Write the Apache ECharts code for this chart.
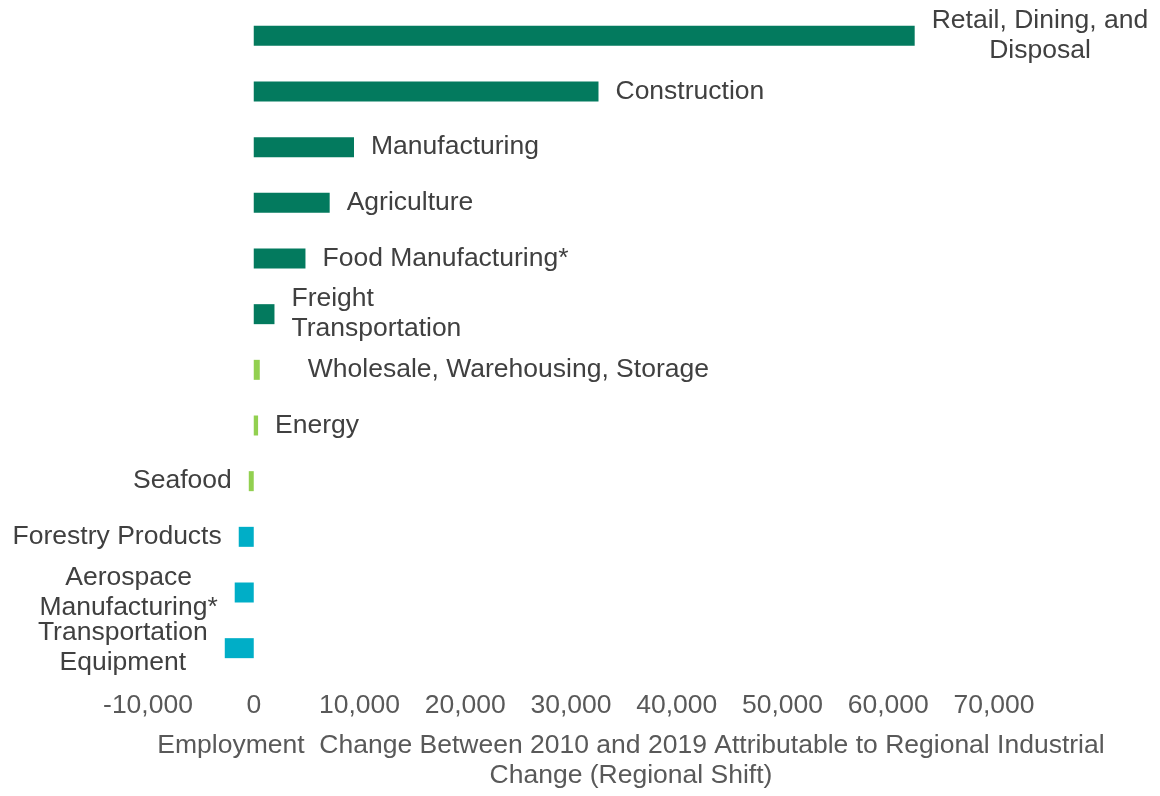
<!DOCTYPE html>
<html>
<head>
<meta charset="utf-8">
<script src="https://cdn.jsdelivr.net/npm/echarts@6/dist/echarts.min.js"></script>
<style>
html,body{margin:0;padding:0;background:#fff;}
#chart{width:1160px;height:796px;}
</style>
</head>
<body>
<div id="chart"></div>
<script>
// Categories (top to bottom)
const categories = [
  'Retail, Dining, and Disposal',
  'Construction',
  'Manufacturing',
  'Agriculture',
  'Food Manufacturing*',
  'Freight Transportation',
  'Wholesale, Warehousing, Storage',
  'Energy',
  'Seafood',
  'Forestry Products',
  'Aerospace Manufacturing*',
  'Transportation Equipment'
];
// Label text as displayed (line breaks as in the chart)
const labelLines = [
  ['Retail, Dining, and', 'Disposal'],
  ['Construction'],
  ['Manufacturing'],
  ['Agriculture'],
  ['Food Manufacturing*'],
  ['Freight', 'Transportation'],
  ['Wholesale, Warehousing, Storage'],
  ['Energy'],
  ['Seafood'],
  ['Forestry Products'],
  ['Aerospace', 'Manufacturing*'],
  ['Transportation', 'Equipment']
];
// Regional shift values (employment change 2010-2019)
const values = [62500, 32600, 9480, 7180, 4890, 1960, 570, 410, -470, -1420, -1800, -2740];
// Colour group per category
const groups = ['high', 'high', 'high', 'high', 'high', 'high', 'mid', 'mid', 'mid', 'low', 'low', 'low'];
// Axis ticks
const xMin = -10000, xMax = 70000, xInterval = 10000;

const groupColors = { high: '#037A5E', mid: '#92D050', low: '#00AEC7' };
const leftAlignedLabels = { 'Freight Transportation': true };
const extraDistance = { 'Wholesale, Warehousing, Storage': 48 };

const FONT = 'Liberation Sans, Arial, sans-serif';
const FS = 26.5;
const labelColor = '#404040';
const richStyles = {
  c: { align: 'center', fontSize: FS, lineHeight: 30, color: labelColor, fontFamily: FONT },
  l: { align: 'left', fontSize: FS, lineHeight: 30, color: labelColor, fontFamily: FONT }
};

const seriesData = values.map((v, i) => {
  const cat = categories[i];
  const tag = leftAlignedLabels[cat] ? 'l' : 'c';
  return {
    value: v,
    itemStyle: { color: groupColors[groups[i]] },
    label: {
      show: true,
      position: v >= 0 ? 'right' : 'left',
      distance: extraDistance[cat] || 17,
      formatter: labelLines[i].map(s => '{' + tag + '|' + s + '}').join('\n'),
      rich: richStyles
    }
  };
});

const chart = echarts.init(document.getElementById('chart'), null, { renderer: 'canvas' });
chart.setOption({
  backgroundColor: '#ffffff',
  animation: false,
  textStyle: { fontFamily: FONT },
  grid: { left: 148, right: 166, top: 8, bottom: 115, containLabel: false },
  xAxis: {
    type: 'value',
    min: xMin,
    max: xMax,
    interval: xInterval,
    axisLine: { show: false },
    axisTick: { show: false },
    splitLine: { show: false },
    axisLabel: {
      fontSize: FS,
      color: '#595959',
      margin: 16,
      formatter: v => v.toLocaleString('en-US')
    },
    name: 'Employment  Change Between 2010 and 2019 Attributable to Regional Industrial\nChange (Regional Shift)',
    nameLocation: 'middle',
    nameGap: 55,
    nameTextStyle: {
      fontSize: FS,
      lineHeight: 30,
      color: '#595959',
      align: 'center',
      padding: [0, 0, 0, 120]
    }
  },
  yAxis: {
    type: 'category',
    data: categories,
    inverse: true,
    axisLine: { show: false },
    axisTick: { show: false },
    axisLabel: { show: false },
    splitLine: { show: false }
  },
  series: [{
    type: 'bar',
    data: seriesData,
    barWidth: 20
  }]
});
</script>
</body>
</html>
